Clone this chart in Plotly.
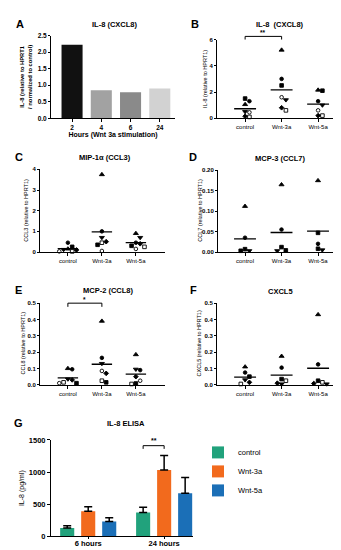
import plotly.graph_objects as go

W, H = 341, 550
FONT = "Liberation Sans, Arial, sans-serif"

# ---------------- DATA ----------------
hours = ["2", "4", "6", "24"]
il8_fold = [2.22, 0.85, 0.79, 0.90]
hour_colors = ["#111111", "#a2a2a2", "#8a8a8a", "#d2d2d2"]

groups = ["control", "Wnt-3a", "Wnt-5a"]
sym7 = ["triangle-up", "circle", "square", "triangle-down", "diamond", "square-open", "circle-open"]

il8_ctrl = [1.05, 1.30, 1.50, 0.50, 0.15, 0.10, 0.45]
il8_w3a = [5.20, 3.00, 2.50, 1.40, 0.80, 0.60, 1.60]
il8_w5a = [2.15, 1.30, 2.10, 1.00, 0.20, 0.20, 0.60]

ccl3_ctrl = [0.15, 0.45, 0.25, 0.12, 0.10, 0.03, 0.03]
ccl3_w3a = [3.75, 1.00, 0.35, 0.70, 0.50, 0.45, 0.05]
ccl3_w5a = [0.90, 0.45, 0.30, 0.70, 0.40, 0.25, 0.15]

sym5 = ["triangle-up", "circle", "square", "triangle-down", "square"]
ccl7_ctrl = [0.112, 0.035, 0.007, 0.003, 0.003]
ccl7_w3a = [0.165, 0.055, 0.012, 0.003, 0.004]
ccl7_w5a = [0.175, 0.020, 0.047, 0.005, 0.008]

ccl8_ctrl = [0.100, 0.095, 0.010, 0.035, 0.030, 0.015, 0.010]
ccl8_w3a = [0.390, 0.165, 0.015, 0.130, 0.070, 0.025, 0.085]
ccl8_w5a = [0.185, 0.090, 0.008, 0.095, 0.050, 0.005, 0.025]

sym6 = ["triangle-up", "circle", "square", "triangle-down", "diamond", "square-open"]
cxcl5_ctrl = [0.110, 0.075, 0.050, 0.030, 0.015, 0.005]
cxcl5_w3a = [0.175, 0.105, 0.035, 0.005, 0.010, 0.025]
cxcl5_w5a = [0.430, 0.125, 0.025, 0.005, 0.008, 0.015]

elisa_times = ["6 hours", "24 hours"]
elisa_ctrl = [130, 370]
elisa_ctrl_err = [35, 80]
elisa_w3a = [390, 1030]
elisa_w3a_err = [70, 225]
elisa_w5a = [230, 670]
elisa_w5a_err = [60, 245]
elisa_colors = ["#21a27c", "#f26a1d", "#1b6fb7"]

# ---------------- HELPERS ----------------
def px(x):
    return x / W

def py(y):
    return 1 - y / H

fig = go.Figure()
layout = dict(
    width=W, height=H, margin=dict(l=0, r=0, t=0, b=0),
    paper_bgcolor="white", plot_bgcolor="white",
    font=dict(family=FONT, color="black", size=7),
    showlegend=True,
)
annotations = []
shapes = []


def axis_style(**kw):
    d = dict(showline=True, linecolor="black", linewidth=1, ticks="outside",
             ticklen=3, tickwidth=1, tickcolor="black", showgrid=False,
             zeroline=False, tickfont=dict(size=6.5, family=FONT, color="black"))
    d.update(kw)
    return d


def swarm_offsets(vals, y_px_per_unit, cat_px, size=4.3):
    order = sorted(range(len(vals)), key=lambda i: -vals[i])
    placed = []
    offs = [0.0] * len(vals)
    for i in order:
        yv = vals[i] * y_px_per_unit
        k = 0
        while True:
            cands = [0.0] if k == 0 else [k * size, -k * size]
            ok = None
            for c in cands:
                if all(((c - ox) ** 2 + (yv - oy) ** 2) ** 0.5 >= size for ox, oy in placed):
                    ok = c
                    break
            if ok is not None:
                offs[i] = ok
                placed.append((ok, yv))
                break
            k += 1
    return [o / cat_px for o in offs]


def title(text, xc, yc, size=7.5):
    annotations.append(dict(text="<b>%s</b>" % text, x=px(xc), y=py(yc), xref="paper", yref="paper",
                            showarrow=False, font=dict(size=size, family=FONT), xanchor="center", yanchor="middle"))


def letter(text, xc, yc):
    annotations.append(dict(text="<b>%s</b>" % text, x=px(xc), y=py(yc), xref="paper", yref="paper",
                            showarrow=False, font=dict(size=11, family=FONT), xanchor="center", yanchor="middle"))


def ytitle(text, xc, yc, size=6):
    annotations.append(dict(text=text, x=px(xc), y=py(yc), xref="paper", yref="paper", textangle=-90,
                            showarrow=False, font=dict(size=size, family=FONT), xanchor="center", yanchor="middle"))


def dot_panel(n, dom_x, dom_y, yr, ticks, tickfmt, datasets, symbols, cat_px, x0_units):
    xa = "x%d" % n
    ya = "y%d" % n
    ypx = (dom_y[0] - dom_y[1]) / (yr[1] - yr[0])
    for gi, vals in enumerate(datasets):
        offs = swarm_offsets(vals, ypx, cat_px)
        for v, o, s in zip(vals, offs, symbols):
            fig.add_trace(go.Scatter(
                x=[gi + o], y=[v], mode="markers", xaxis=xa, yaxis=ya, showlegend=False,
                cliponaxis=False,
                marker=dict(symbol=s, size=3.6 if "triangle" not in s else 4.4, color="black",
                            line=dict(color="black", width=0.9))))
        m = sum(vals) / len(vals)
        fig.add_trace(go.Scatter(x=[gi - 0.3, gi + 0.3], y=[m, m], mode="lines", xaxis=xa, yaxis=ya,
                                 showlegend=False, line=dict(color="black", width=1.3)))
    layout["xaxis%d" % n] = axis_style(domain=[px(dom_x[0]), px(dom_x[1])], anchor=ya,
                                       range=[-x0_units, (dom_x[1] - dom_x[0]) / cat_px - x0_units],
                                       tickvals=[0, 1, 2], ticktext=groups, tickfont=dict(size=6, family=FONT))
    layout["yaxis%d" % n] = axis_style(domain=[py(dom_y[0]), py(dom_y[1])], anchor=xa, range=yr,
                                       tickvals=ticks, ticktext=[tickfmt % t for t in ticks],
                                       tickfont=dict(size=6, family=FONT, weight="bold"), ticklen=2)


def bracket(n, a, b, yd, drop, label, ylab):
    xa = "x%d" % n
    shapes.append(dict(type="path", xref=xa, yref="y%d domain" % n,
                       path="M %s,%s L %s,%s L %s,%s L %s,%s" % (a, yd - drop, a, yd, b, yd, b, yd - drop),
                       line=dict(color="black", width=1)))
    annotations.append(dict(text="<b>%s</b>" % label, x=(a + b) / 2, y=ylab, xref=xa, yref="y%d domain" % n,
                            showarrow=False, font=dict(size=6.5, family=FONT), yanchor="middle"))


# ---------------- PANEL A ----------------
fig.add_trace(go.Bar(x=hours, y=il8_fold, marker=dict(color=hour_colors, line=dict(width=0)),
                     width=0.72, xaxis="x", yaxis="y", showlegend=False))
layout["xaxis"] = axis_style(domain=[px(43), px(167)], anchor="y", type="category",
                             range=[-0.72, 3.52], tickfont=dict(size=6.5, family=FONT, weight="bold"),
                             title=dict(text="<b>Hours (Wnt 3a stimulation)</b>", font=dict(size=7), standoff=2))
layout["yaxis"] = axis_style(domain=[py(108), py(24)], anchor="x", range=[0, 2.5],
                             tickvals=[0, 0.5, 1.0, 1.5, 2.0, 2.5],
                             ticktext=["0.0", "0.5", "1.0", "1.5", "2.0", "2.5"],
                             tickfont=dict(size=6.5, family=FONT, weight="bold"), ticklen=2)
title("IL-8 (CXCL8)", 107, 13)
letter("A", 12, 12)
ytitle("<b>IL-8 (relative to HPRT1<br>/ normalized to control)</b>", 18, 66, size=5.8)

# ---------------- PANEL B ----------------
dot_panel(2, (209, 337), (108, 28), [0, 6], [0, 2, 4, 6], "%d",
          [il8_ctrl, il8_w3a, il8_w5a], sym7, 36.5, 0.77)
title("IL-8  (CXCL8)", 272, 13)
letter("B", 187, 12)
ytitle("IL-8 (relative to HPRT1)", 197, 68, size=5.5)
bracket(2, 0, 1, 1.04, 0.04, "**", 1.085)

# ---------------- PANEL C ----------------
dot_panel(3, (32, 157), (244, 160), [0, 4], [0, 1, 2, 3, 4], "%d",
          [ccl3_ctrl, ccl3_w3a, ccl3_w5a], sym7, 34.0, 0.82)
title("MIP-1\u03b1 (CCL3)", 97, 148)
letter("C", 11, 147)
ytitle("CCL3 (relative to HPRT1)", 18, 202, size=5.5)

# ---------------- PANEL D ----------------
dot_panel(4, (210, 337), (244, 161), [0, 0.2], [0, 0.05, 0.10, 0.15, 0.20], "%.2f",
          [ccl7_ctrl, ccl7_w3a, ccl7_w5a], sym5, 36.5, 0.74)
title("MCP-3 (CCL7)", 272, 149)
letter("D", 185, 147)
ytitle("CCL7 (relative to HPRT1)", 192, 202, size=5.5)

# ---------------- PANEL E ----------------
dot_panel(5, (32, 157), (379, 296), [0, 0.5], [0, 0.1, 0.2, 0.3, 0.4, 0.5], "%.1f",
          [ccl8_ctrl, ccl8_w3a, ccl8_w5a], sym7, 34.0, 0.82)
title("MCP-2 (CCL8)", 100, 283)
letter("E", 10, 283)
ytitle("CCL8 (relative to HPRT1)", 15, 337, size=5.5)
bracket(5, 0, 1, 1.0, 0.045, "*", 1.045)

# ---------------- PANEL F ----------------
dot_panel(6, (209, 337), (379, 296), [0, 0.5], [0, 0.1, 0.2, 0.3, 0.4, 0.5], "%.1f",
          [cxcl5_ctrl, cxcl5_w3a, cxcl5_w5a], sym6, 36.5, 0.77)
title("CXCL5", 272, 284)
letter("F", 185, 283)
ytitle("CXCL5 (relative to HPRT1)", 191, 337, size=5.5)

# ---------------- PANEL G ----------------
for name, vals, errs, col in zip(groups, [elisa_ctrl, elisa_w3a, elisa_w5a],
                                 [elisa_ctrl_err, elisa_w3a_err, elisa_w5a_err], elisa_colors):
    fig.add_trace(go.Bar(
        x=elisa_times, y=vals, name=name, marker=dict(color=col, line=dict(width=0)),
        xaxis="x7", yaxis="y7", showlegend=True,
        error_y=dict(type="data", array=errs, arrayminus=[0] * len(errs), symmetric=False,
                     color="black", thickness=1.5, width=4)))
layout["barmode"] = "group"
layout["bargap"] = 0.17
layout["bargroupgap"] = 0.33
layout["xaxis7"] = axis_style(domain=[px(43), px(185)], anchor="y7", type="category",
                              range=[-0.49, 1.38], ticklen=2, ticklabelstandoff=-2,
                              tickfont=dict(size=7.5, family=FONT, weight="bold"))
layout["yaxis7"] = axis_style(domain=[py(533), py(435)], anchor="x7", range=[0, 1500],
                              tickvals=[0, 500, 1000, 1500], ticklen=3,
                              tickfont=dict(size=7.5, family=FONT, weight="bold"))
title("IL-8 ELISA", 118, 418)
letter("G", 10, 418)
ytitle("IL-8 (pg/ml)", 14, 484, size=7)
# significance bracket over 24 h control vs Wnt-3a
grp_w = (1 - layout["bargap"]) / 3
shapes.append(dict(type="path", xref="x7", yref="y7",
                   path="M %f,1360 L %f,1410 L %f,1410 L %f,1360" % (1 - grp_w, 1 - grp_w, 1, 1),
                   line=dict(color="black", width=1)))
annotations.append(dict(text="<b>**</b>", x=1 - grp_w / 2, y=1490, xref="x7", yref="y7",
                        showarrow=False, font=dict(size=7, family=FONT)))

layout["legend"] = dict(x=px(190), y=py(433), xanchor="left", yanchor="top",
                        font=dict(size=7.5, family=FONT), itemwidth=30, tracegroupgap=0,
                        bgcolor="rgba(0,0,0,0)")
layout["annotations"] = annotations
layout["shapes"] = shapes
fig.update_layout(**layout)
fig.write_html("out.html")
